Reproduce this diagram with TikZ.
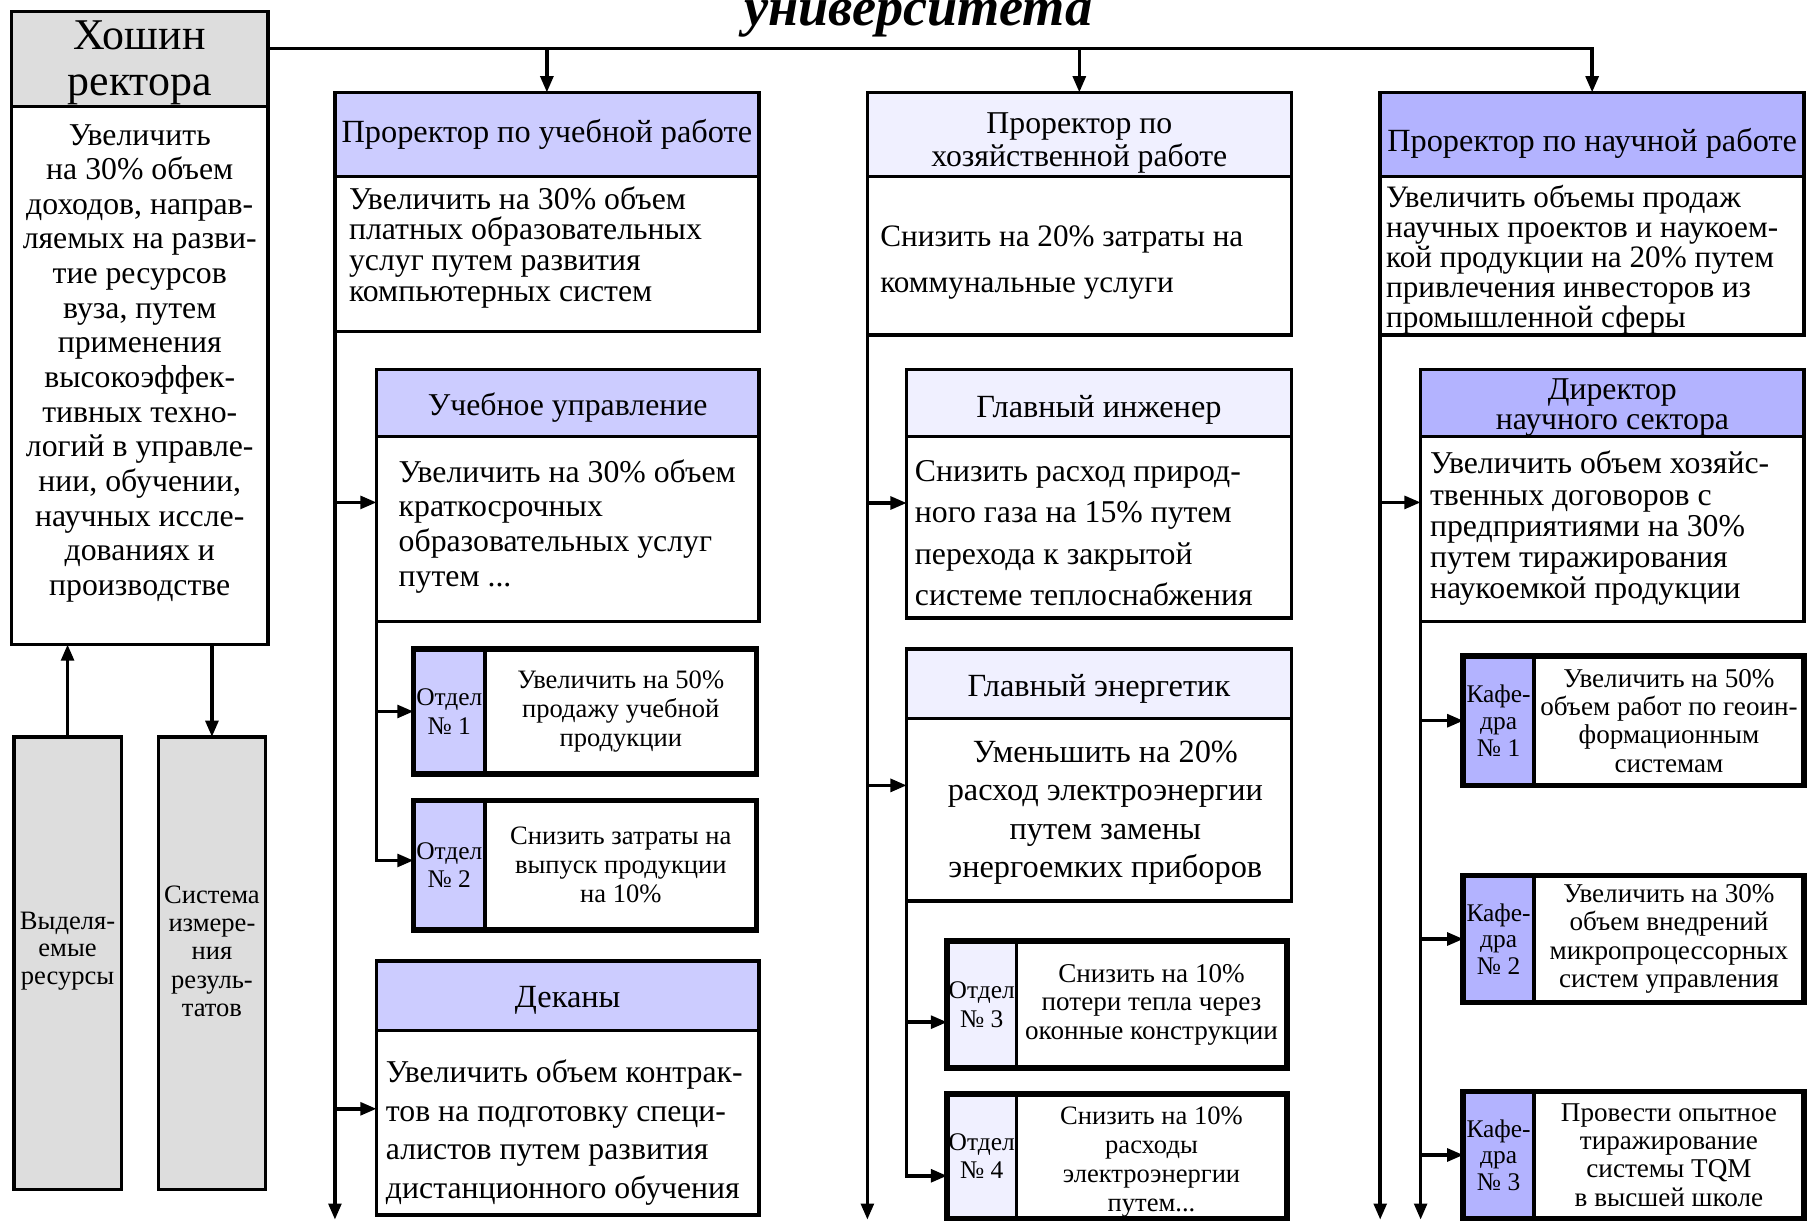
\documentclass[tikz,border=0pt]{standalone}
\usepackage{fontspec}
\setmainfont{Liberation Serif}
\usetikzlibrary{arrows.meta}
\definecolor{lilac-light}{HTML}{CCCCFF}
\definecolor{lilac-pale}{HTML}{F0F0FF}
\definecolor{lilac-dark}{HTML}{B3B3FF}
\definecolor{panel-gray}{HTML}{DDDDDD}
\newcommand{\fsz}[2]{\fontsize{#1}{#2}\selectfont}

\begin{document}
\begin{tikzpicture}[x=1pt, y=-1pt, >={Triangle[length=14pt,width=11pt]},
    box/.style={draw, line width=3pt, inner sep=0pt, outer sep=0pt, anchor=north west, align=center},
    lbl/.style={inner sep=0pt, align=center},
    lbll/.style={inner sep=0pt, align=left, anchor=west},
    conn/.style={line width=3pt},
    frame/.style={line width=5pt}]
        \useasboundingbox (0,0) rectangle (1568,1058);

        \node[lbl, anchor=base, font=\fsz{47}{47}\bfseries\itshape] (ttl) at (795,22) {университета};

        % rector
        \node[box, fill=panel-gray, minimum width=222, minimum height=82] (rh) at (10,10) {};
        \node[box, minimum width=222, minimum height=466] (rb) at (10,92) {};
        \node[box, fill=panel-gray, minimum width=93, minimum height=392] (res) at (12,638) {};
        \node[box, fill=panel-gray, minimum width=93, minimum height=392] (izm) at (137,638) {};
        \node[lbl, font=\fsz{38}{40}] (rhT) at (121,54.5) {Хошин\\ректора};
        \node[lbl, font=\fsz{27.5}{30}] (rbT) at (121,314.5) {Увеличить\\на 30\% объем\\доходов, направ-\\ляемых на разви-\\тие ресурсов\\вуза, путем\\применения\\высокоэффек-\\тивных техно-\\логий в управле-\\нии, обучении,\\научных иссле-\\дованиях и\\производстве};
        \node[lbl, font=\fsz{23}{24}] (resT) at (58.5,823.5) {Выделя-\\емые\\ресурсы};
        \node[lbl, font=\fsz{23}{24.5}] (izmT) at (183.5,823.5) {Система\\измере-\\ния\\резуль-\\татов};

        % column 1
        \node[box, fill=lilac-light, minimum width=367, minimum height=73] (pu) at (290,80) {};
        \node[box, minimum width=367, minimum height=134] (pub) at (290,153) {};
        \node[box, fill=lilac-light, minimum width=331, minimum height=58] (uu) at (326,320) {};
        \node[box, minimum width=331, minimum height=160] (uub) at (326,378) {};
        \node[box, fill=lilac-light, minimum width=62, minimum height=108, font=\fsz{22}{25}] (o1l) at (358,562) {Отдел\\№ 1};
        \node[box, minimum width=235, minimum height=108, font=\fsz{23}{25}] (o1r) at (420,562) {Увеличить на 50\%\\продажу учебной\\продукции};
        \node[box, fill=lilac-light, minimum width=62, minimum height=112, font=\fsz{22}{25}] (o2l) at (358,693) {Отдел\\№ 2};
        \node[box, minimum width=235, minimum height=112, font=\fsz{23}{25}] (o2r) at (420,693) {Снизить затраты на\\выпуск продукции\\на 10\%};
        \node[box, fill=lilac-light, minimum width=331, minimum height=60] (dk) at (326,832) {};
        \node[box, minimum width=331, minimum height=160] (dkb) at (326,892) {};
        \node[lbl, font=\fsz{28}{29}] (puT) at (473.5,116.5) {Проректор по учебной работе};
        \node[lbll, font=\fsz{27.5}{26.5}] (pubT) at (302,214) {Увеличить на 30\% объем\\платных образовательных\\услуг путем развития\\компьютерных систем};
        \node[lbl, font=\fsz{27.5}{29}] (uuT) at (491.5,352.5) {Учебное управление};
        \node[lbll, font=\fsz{27.5}{30}] (uubT) at (345,455.5) {Увеличить на 30\% объем\\краткосрочных\\образовательных услуг\\путем ...};
        \node[lbl, font=\fsz{28}{29}] (dkT) at (491.5,866.5) {Деканы};
        \node[lbll, font=\fsz{27.5}{33.3}] (dkbT) at (334,980.5) {Увеличить объем контрак-\\тов на подготовку специ-\\алистов путем развития\\дистанционного обучения};

        % column 2
        \node[box, fill=lilac-pale, minimum width=367, minimum height=73] (hz) at (751,80) {};
        \node[box, minimum width=367, minimum height=137] (hzb) at (751,153) {};
        \node[box, fill=lilac-pale, minimum width=333, minimum height=58] (gi) at (785,320) {};
        \node[box, minimum width=333, minimum height=157] (gib) at (785,378) {};
        \node[box, fill=lilac-pale, minimum width=333, minimum height=60] (ge) at (785,562) {};
        \node[box, minimum width=333, minimum height=158] (geb) at (785,622) {};
        \node[box, fill=lilac-pale, minimum width=60, minimum height=110, font=\fsz{22}{25}] (o3l) at (820,815) {Отдел\\№ 3};
        \node[box, minimum width=234, minimum height=110, font=\fsz{23.5}{25}] (o3r) at (880,815) {Снизить на 10\%\\потери тепла через\\оконные конструкции};
        \node[box, fill=lilac-pale, minimum width=60, minimum height=108, font=\fsz{22}{25}] (o4l) at (820,947) {Отдел\\№ 4};
        \node[box, minimum width=234, minimum height=108] (o4r) at (880,947) {};
        \node[lbl, font=\fsz{27.5}{29}] (hzT) at (934.5,124) {Проректор по\\хозяйственной работе};
        \node[lbll, font=\fsz{27}{40}] (hzbT) at (762,227.5) {Снизить на 20\% затраты на\\коммунальные услуги};
        \node[lbl, font=\fsz{28}{29}] (giT) at (951.5,354.5) {Главный инженер};
        \node[lbll, font=\fsz{27.5}{36}] (gibT) at (792,461.5) {Снизить расход природ-\\ного газа на 15\% путем\\перехода к закрытой\\системе теплоснабжения};
        \node[lbl, font=\fsz{28}{29}] (geT) at (951.5,596.5) {Главный энергетик};
        \node[lbl, font=\fsz{28}{33.3}] (gebT) at (957,703.5) {Уменьшить на 20\%\\расход электроэнергии\\путем замены\\энергоемких приборов};
        \node[lbl, font=\fsz{23}{25}] (o4rT) at (997,1006) {Снизить на 10\%\\расходы\\электроэнергии\\путем...};

        % column 3
        \node[box, fill=lilac-dark, minimum width=367, minimum height=73] (ns) at (1195,80) {};
        \node[box, minimum width=367, minimum height=137] (nsb) at (1195,153) {};
        \node[box, fill=lilac-dark, minimum width=332, minimum height=58] (dr) at (1230,320) {};
        \node[box, minimum width=332, minimum height=160] (drb) at (1230,378) {};
        \node[box, fill=lilac-dark, minimum width=61, minimum height=112, font=\fsz{22}{23}] (k1l) at (1267,568) {Кафе-\\дра\\№ 1};
        \node[box, minimum width=234, minimum height=112, font=\fsz{23.5}{24.5}] (k1r) at (1328,568) {Увеличить на 50\%\\объем работ по геоин-\\формационным\\системам};
        \node[box, fill=lilac-dark, minimum width=61, minimum height=110, font=\fsz{22}{23}] (k2l) at (1267,758) {Кафе-\\дра\\№ 2};
        \node[box, minimum width=234, minimum height=110, font=\fsz{23.5}{24.5}] (k2r) at (1328,758) {Увеличить на 30\%\\объем внедрений\\микропроцессорных\\систем управления};
        \node[box, fill=lilac-dark, minimum width=61, minimum height=110, font=\fsz{22}{23}] (k3l) at (1267,945) {Кафе-\\дра\\№ 3};
        \node[box, minimum width=234, minimum height=110, font=\fsz{23.5}{24.5}] (k3r) at (1328,945) {Провести опытное\\тиражирование\\системы TQM\\в высшей школе};
        \node[lbl, font=\fsz{28}{29}] (nsT) at (1378.5,124.5) {Проректор по научной работе};
        \node[lbll, font=\fsz{27}{26}] (nsbT) at (1200,224.5) {Увеличить объемы продаж\\научных проектов и наукоем-\\кой продукции на 20\% путем\\привлечения инвесторов из\\промышленной сферы};
        \node[lbl, font=\fsz{27.5}{26}] (drT) at (1396,352.5) {Директор\\научного сектора};
        \node[lbll, font=\fsz{27.5}{27}] (drbT) at (1238,457.5) {Увеличить объем хозяйс-\\твенных договоров с\\предприятиями на 30\%\\путем тиражирования\\наукоемкой продукции};

        \draw[frame] (o1l.north west) rectangle (o1r.south east);
        \draw[frame] (o2l.north west) rectangle (o2r.south east);
        \draw[frame] (o3l.north west) rectangle (o3r.south east);
        \draw[frame] (o4l.north west) rectangle (o4r.south east);
        \draw[frame] (k1l.north west) rectangle (k1r.south east);
        \draw[frame] (k2l.north west) rectangle (k2r.south east);
        \draw[frame] (k3l.north west) rectangle (k3r.south east);

        \coordinate (bus) at ([yshift=9pt]rh.east);
        \coordinate (e1) at (290,1056);
        \coordinate (e2) at (751,1056);
        \coordinate (e3) at (1195,1056);
        \coordinate (e4) at (1230,1056);

        \draw[conn, ->] (bus) -| (ns.north);
        \draw[conn, ->] (bus -| pu.north) -- (pu.north);
        \draw[conn, ->] (bus -| hz.north) -- (hz.north);
        \draw[conn, ->] (res.north) -- (res.north |- rb.south);
        \draw[conn, ->] (izm.north |- rb.south) -- (izm.north);

        \draw[conn, ->] (pub.south west) -- (e1);
        \draw[conn, ->] ([yshift=23pt]pub.south west |- uub.west) -- ([yshift=23pt]uub.west);
        \draw[conn, ->] ([yshift=12pt]pub.south west |- dkb.west) -- ([yshift=12pt]dkb.west);
        \draw[conn, ->] (uub.south west |- o1l.west) -- (o1l.west);
        \draw[conn, ->] (uub.south west) |- ([yshift=4pt]o2l.west);

        \draw[conn, ->] (hzb.south west) -- (e2);
        \draw[conn, ->] ([yshift=21pt]hzb.south west |- gib.west) -- ([yshift=21pt]gib.west);
        \draw[conn, ->] ([yshift=21pt]hzb.south west |- geb.west) -- ([yshift=21pt]geb.west);
        \draw[conn, ->] ([yshift=-15pt]geb.south west |- o3l.west) -- ([yshift=-15pt]o3l.west);
        \draw[conn, ->] (geb.south west) |- ([yshift=-17pt]o4l.west);

        \draw[conn, ->] (nsb.south west) -- (e3);
        \draw[conn, ->] ([yshift=23pt]nsb.south west |- drb.west) -- ([yshift=23pt]drb.west);
        \draw[conn, ->] (drb.south west) -- (e4);
        \draw[conn, ->] (drb.south west |- k1l.west) -- (k1l.west);
        \draw[conn, ->] (drb.south west |- k2l.west) -- (k2l.west);
        \draw[conn, ->] (drb.south west |- k3l.west) -- (k3l.west);
      \end{tikzpicture}
\end{document}
